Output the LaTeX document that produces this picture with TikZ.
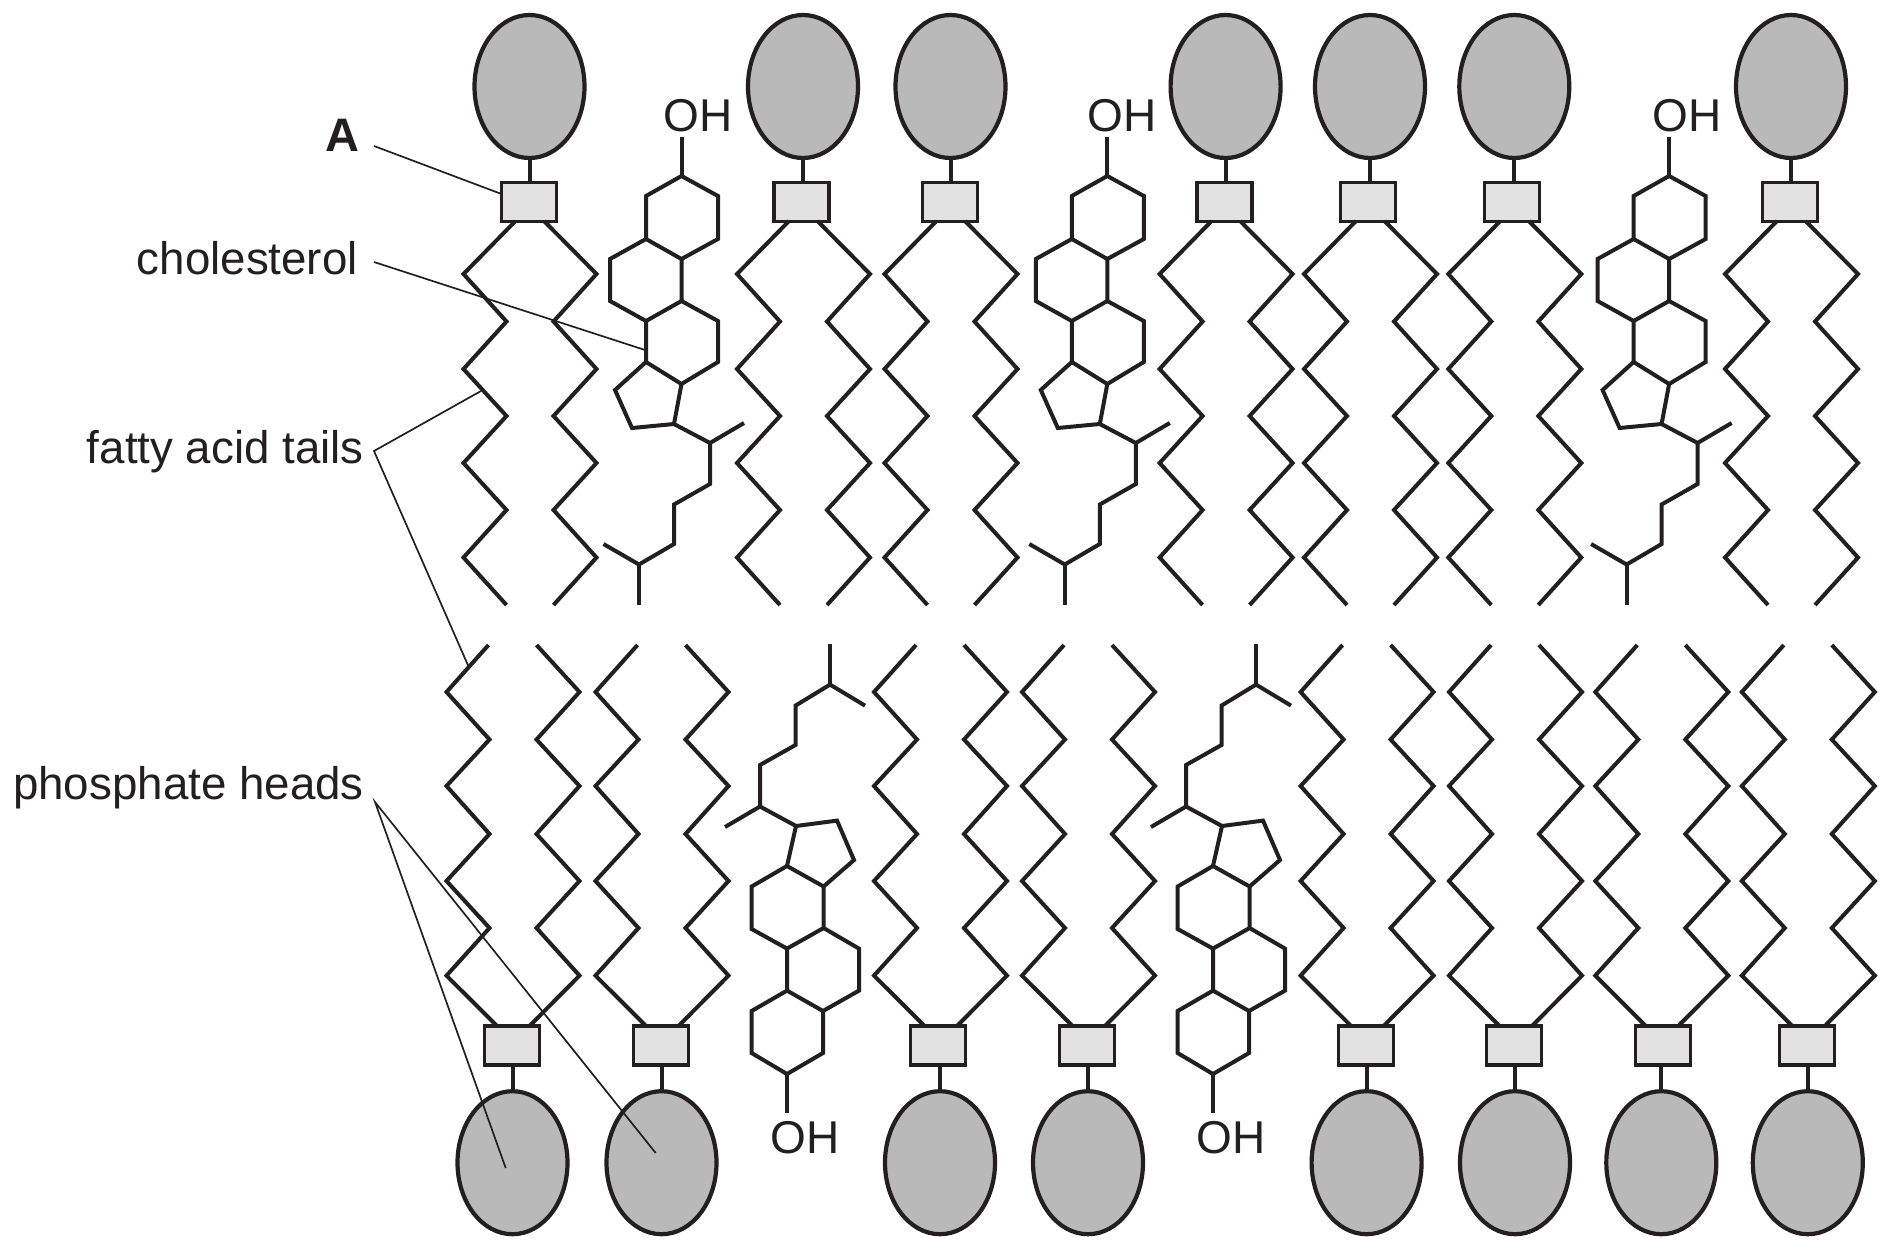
\documentclass[tikz,border=0pt]{standalone}
\usepackage{fontspec}
\setmainfont{Liberation Sans}
\usetikzlibrary{shapes.geometric}
\definecolor{ink}{HTML}{231F20}
\definecolor{headgrey}{HTML}{B9B9B9}
\definecolor{boxgrey}{HTML}{E2E2E2}
\tikzset{
  headshape/.style={ellipse,draw=ink,fill=headgrey,line width=4.2pt,minimum width=110pt,minimum height=143pt,inner sep=0pt,outer sep=0pt},
  neckbox/.style={rectangle,draw=ink,fill=boxgrey,line width=3.5pt,minimum width=55pt,minimum height=39pt,inner sep=0pt,outer sep=0pt},
  bond/.style={draw=ink,line width=4pt,line join=miter,miter limit=10},
  leader/.style={draw=ink,line width=1.7pt,line join=miter},
  lab/.style={text=ink,inner sep=0pt,anchor=base east,font=\fontsize{45.7}{52}\selectfont},
  ohlab/.style={text=ink,inner sep=0pt,anchor=base,font=\fontsize{46}{52}\selectfont},
}
\newcommand\toplipid[3]{%
  \node[headshape] (#1h) at (#2,86.5) {};
  \node[neckbox] (#1b) at (#3,202) {};
  \draw[bond] (#1h.south) -- (#2,182.5);
  \begin{scope}[shift={(#2,0)}]
    \draw[bond] (-14,221) -- (-66,274) -- (-23,321.5) -- (-66,369) -- (-23,416) -- (-66,463) -- (-23,510) -- (-66,557.5) -- (-23,605);
    \draw[bond] (14.5,221) -- (67,274) -- (24,321.5) -- (67,369) -- (24,416) -- (67,463) -- (24,510) -- (67,557.5) -- (24,605);
  \end{scope}}
\newcommand\botlipid[3]{%
  \node[headshape] (#1h) at (#2,1162.7) {};
  \node[neckbox] (#1b) at (#3,1045.6) {};
  \draw[bond] (#1h.north) -- (#2,1065);
  \begin{scope}[shift={(#2,0)}]
    \draw[bond] (-24,645) -- (-66,692) -- (-23,739.5) -- (-66,786) -- (-23,834) -- (-66,881) -- (-23,928) -- (-66,975.6) -- (-15.5,1026);
    \draw[bond] (24,645) -- (67,692) -- (24,739.5) -- (67,786) -- (24,834) -- (67,881) -- (24,928) -- (67,975.6) -- (17,1026);
  \end{scope}}
\newcommand\topchol[3]{%
  \begin{scope}[shift={(#2,0)}]
    \node[ohlab] (#1oh) at (#3,131.5) {OH};
    \draw[bond] (681.5,137) -- (681.5,176);
    \draw[bond] (681.5,176) -- (718,196) -- (718,239) -- (681.5,259) -- (646,239) -- (646,196) -- cycle;
    \draw[bond] (646,239) -- (610,259) -- (610,301) -- (646,321) -- (681.5,301) -- (681.5,259);
    \draw[bond] (681.5,301) -- (718,321) -- (718,362) -- (681.5,384) -- (646,362) -- (646,321);
    \draw[bond] (646,362) -- (615,390) -- (632,428) -- (674,424) -- (681.5,384);
    \draw[bond] (674,424) -- (710,443) -- (744,423);
    \draw[bond] (710,443) -- (710,484) -- (674,504.5) -- (674,544) -- (639,564.5) -- (603.5,544);
    \draw[bond] (639,564.5) -- (639,605);
  \end{scope}}
\newcommand\botchol[2]{%
  \begin{scope}[shift={(#2,0)}]
    \draw[bond] (787,1112.5) -- (787,1074);
    \draw[bond] (787,1074) -- (823,1053) -- (823,1011) -- (787,990.6) -- (751.6,1011) -- (751.6,1053) -- cycle;
    \draw[bond] (787,990.6) -- (787,948.6) -- (823.6,928) -- (859,948.6) -- (859,990.6) -- (823,1011);
    \draw[bond] (787,948.6) -- (751.6,929) -- (751.6,886.5) -- (787,866) -- (823.6,886.5) -- (823.6,928);
    \draw[bond] (787,866) -- (796,826) -- (837,820.6) -- (854,860) -- (823.6,886.5);
    \draw[bond] (725,827) -- (760,806.5) -- (796,826);
    \draw[bond] (760,806.5) -- (760,765) -- (795.5,745) -- (795.5,705.6) -- (830,684.6) -- (865,705.6);
    \draw[bond] (830,684.6) -- (830,644);
    \node[ohlab] (#1oh) at (805,1153) {OH};
  \end{scope}}
\begin{document}
\begin{tikzpicture}[x=1pt,y=-1pt]
\useasboundingbox (0,0) rectangle (1892,1253);
% upper layer
\toplipid{ta}{529.5}{529}
\toplipid{tb}{803}{801.4}
\toplipid{tc}{950.5}{950}
\toplipid{td}{1225.6}{1224.3}
\toplipid{te}{1370}{1367.8}
\toplipid{tf}{1514.3}{1512}
\toplipid{tg}{1791}{1790}
\topchol{ca}{0}{698}
\topchol{cb}{425.8}{696.5}
\topchol{cc}{987.6}{699.4}
% lower layer
\botlipid{ba}{512.5}{512}
\botlipid{bb}{661.5}{661}
\botlipid{bc}{940}{938}
\botlipid{bd}{1088}{1087}
\botlipid{be}{1366.6}{1366}
\botlipid{bf}{1515}{1514}
\botlipid{bg}{1661.3}{1663}
\botlipid{bh}{1807.8}{1807}
\botchol{da}{0}
\botchol{db}{426}
% labels
\node[lab,font=\fontsize{47}{52}\selectfont\bfseries] (la) at (360,151) {A};
\node[lab] (lc) at (358,274) {cholesterol};
\node[lab] (lf) at (364,463) {fatty acid tails};
\node[lab] (lp) at (364,799.5) {phosphate heads};
% leaders
\coordinate (va) at (374,146);
\coordinate (vc) at (374,262);
\coordinate (vf) at (374,451);
\coordinate (vp) at (375,802);
\coordinate (ec) at (645,350);
\coordinate (ef1) at (481,391);
\coordinate (ef2) at (468.5,666.4);
\coordinate (ep1) at (505.7,1168);
\coordinate (ep2) at (655.7,1153);
\draw[leader] (va) -- (tab.north west |- 0,194);
\draw[leader] (vc) -- (ec);
\draw[leader] (ef1) -- (vf) -- (ef2);
\draw[leader] (ep1) -- (vp) -- (ep2);
\end{tikzpicture}
\end{document}
